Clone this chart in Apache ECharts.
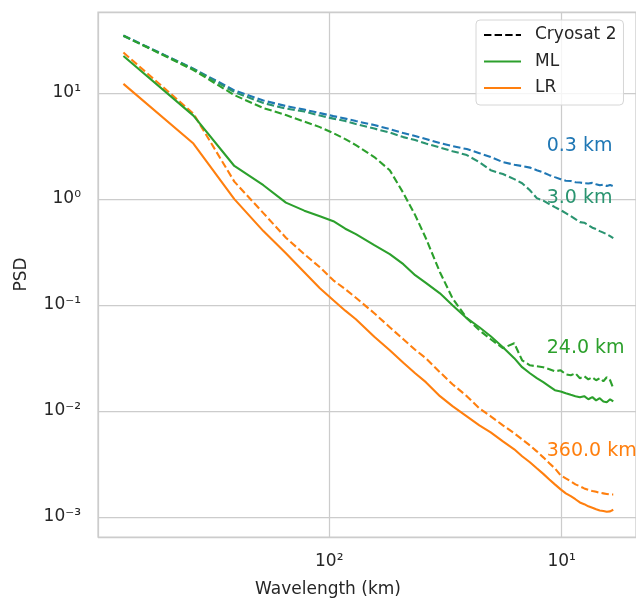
<!DOCTYPE html>
<html><head><meta charset="utf-8">
<script src="https://cdn.jsdelivr.net/npm/echarts@6/dist/echarts.min.js"></script>
<style>html,body{margin:0;padding:0;background:#fff}#c{width:636px;height:600px}</style>
</head><body><div id="c"></div>
<script>
// Wavelength (km)
const wavelengths = [768, 384, 256, 192, 153.6, 128, 109.7, 96, 85.3, 76.8,
  64, 54.9, 48, 42.7, 38.4, 33.4, 29.5, 25.6, 22.6, 20.2,
  17.9, 16, 14.8, 13.7, 12.8, 12, 11.3, 10.7, 10.1, 9.6,
  9.14, 8.73, 8.35, 8, 7.68, 7.38, 7.11, 6.86, 6.62, 6.4, 6.19, 6];

// Cryosat 2 PSD filtered at 0.3 km
const cryo03 = [34.9, 17.0, 10.6, 8.50, 7.54, 6.98, 6.47, 6.06, 5.74, 5.44,
  4.99, 4.57, 4.19, 3.93, 3.68, 3.37, 3.16, 2.96, 2.71, 2.49,
  2.23, 2.11, 2.05, 1.98, 1.87, 1.78, 1.68, 1.61, 1.54, 1.49,
  1.48, 1.44, 1.43, 1.41, 1.40, 1.42, 1.38, 1.35, 1.37, 1.33, 1.36, 1.32];
// Cryosat 2 PSD filtered at 3.0 km
const cryo3 = [34.6, 16.9, 10.2, 8.05, 7.14, 6.69, 6.13, 5.74, 5.44, 5.10,
  4.62, 4.24, 3.84, 3.60, 3.34, 3.06, 2.83, 2.60, 2.23, 1.87,
  1.72, 1.54, 1.41, 1.21, 1.02, 0.966, 0.895, 0.839, 0.786, 0.736,
  0.689, 0.646, 0.605, 0.598, 0.567, 0.537, 0.520, 0.498, 0.482, 0.466, 0.446, 0.427];
// Cryosat 2 PSD filtered at 24.0 km
const cryo24 = [34.8, 16.5, 9.57, 7.22, 6.20, 5.38, 4.77, 4.19, 3.68, 3.23,
  2.49, 1.87, 1.14, 0.705, 0.427, 0.204, 0.116, 0.0751, 0.0578, 0.0475,
  0.0391, 0.0436, 0.0301, 0.0270, 0.0264, 0.0259, 0.0248, 0.0237, 0.0242, 0.0222,
  0.0217, 0.0227, 0.0204, 0.0213, 0.0199, 0.0208, 0.0195, 0.0204, 0.0191, 0.0208, 0.0195, 0.0164];
// Cryosat 2 PSD filtered at 360.0 km
const cryo360 = [24.1, 6.40, 1.46, 0.736, 0.432, 0.302, 0.227, 0.171, 0.141, 0.117,
  0.0837, 0.0617, 0.0475, 0.0378, 0.0315, 0.0232, 0.0179, 0.0138, 0.0106, 0.00891,
  0.00733, 0.00616, 0.00540, 0.00474, 0.00416, 0.00365, 0.00321, 0.00288, 0.00247, 0.00231,
  0.00217, 0.00203, 0.00195, 0.00186, 0.00180, 0.00176, 0.00173, 0.00169, 0.00167, 0.00165, 0.00163, 0.00163];
// ML PSD
const mlPsd = [22.4, 6.13, 2.05, 1.35, 0.925, 0.777, 0.689, 0.618, 0.525, 0.466,
  0.367, 0.302, 0.243, 0.191, 0.162, 0.129, 0.0996, 0.0751, 0.0617, 0.0507,
  0.0400, 0.0315, 0.0259, 0.0227, 0.0204, 0.0187, 0.0171, 0.0157, 0.0153, 0.0147,
  0.0142, 0.0138, 0.0135, 0.0138, 0.0129, 0.0135, 0.0126, 0.0132, 0.0123, 0.0121, 0.0129, 0.0123];
// LR PSD
const lrPsd = [12.2, 3.34, 0.998, 0.498, 0.308, 0.204, 0.144, 0.111, 0.0884, 0.0734,
  0.0502, 0.0374, 0.0285, 0.0227, 0.0187, 0.0138, 0.0111, 0.00891, 0.00733, 0.00629,
  0.00517, 0.00435, 0.00374, 0.00328, 0.00288, 0.00255, 0.00226, 0.00203, 0.00182, 0.00167,
  0.00157, 0.00147, 0.00137, 0.00132, 0.00126, 0.00122, 0.00118, 0.00115, 0.00114, 0.00112, 0.00113, 0.00117];

const xTickLabels = {1: '10\u00B9', 2: '10\u00B2'};
const yTickLabels = {'-3': '10\u207B\u00B3', '-2': '10\u207B\u00B2', '-1': '10\u207B\u00B9', '0': '10\u2070', '1': '10\u00B9'};
const legendNames = ['Cryosat 2', 'ML', 'LR'];
const resLabels = [
  {text: '0.3 km', x: 11.6, y: 3.15, color: '#1f77b4'},
  {text: '3.0 km', x: 11.6, y: 1.03, color: '#2a9470'},
  {text: '24.0 km', x: 11.6, y: 0.0395, color: '#2ca02c'},
  {text: '360.0 km', x: 11.6, y: 0.00415, color: '#ff7f0e'}
];

const FONT = 'DejaVu Sans';
const TXT = '#262626';
function tickFmt(map) {
  return function (v) {
    const e = Math.log10(v);
    const r = Math.round(e);
    if (Math.abs(e - r) > 1e-6) return '';
    return map[String(r)] || '';
  };
}
function mk(name, vals, color, dashed, label) {
  const s = {
    type: 'line', name: name,
    data: wavelengths.map((w, i) => [w, vals[i]]),
    symbol: 'none', showSymbol: false, silent: true, animation: false,
    lineStyle: {color: color, width: 2.1, type: dashed ? [7.4, 3.2] : 'solid'},
    itemStyle: {color: color}
  };
  if (label) {
    s.markPoint = {
      symbol: 'circle', symbolSize: 0, silent: true, animation: false,
      data: [{coord: [label.x, label.y]}],
      label: {show: true, position: 'right', distance: 0, formatter: label.text,
        color: label.color, fontSize: 19, fontFamily: FONT}
    };
  }
  return s;
}

const chart = echarts.init(document.getElementById('c'), null, {renderer: 'canvas'});
chart.setOption({
  backgroundColor: '#fff',
  animation: false,
  textStyle: {fontFamily: FONT},
  grid: {left: 98, right: 0, top: 12, bottom: 63, show: true, borderColor: '#cccccc', borderWidth: 1.25,
    backgroundColor: 'transparent', containLabel: false, outerBoundsMode: 'none'},
  legend: {
    orient: 'vertical', left: 476, top: 20, itemWidth: 37, itemHeight: 14, itemGap: 8.5,
    padding: [6, 7, 8, 7], backgroundColor: 'rgba(255,255,255,0.8)', borderColor: '#d6d6d6',
    borderWidth: 1, borderRadius: 4, selectedMode: false,
    itemStyle: {opacity: 0},
    textStyle: {fontSize: 17, color: TXT, fontFamily: FONT, lineHeight: 18, padding: [0, 0, 0, 9]},
    data: legendNames
  },
  xAxis: {
    type: 'log', logBase: 10, inverse: true, min: 4.79, max: 988,
    axisLine: {show: false}, axisTick: {show: false},
    splitLine: {show: true, lineStyle: {color: '#cccccc', width: 1.25}},
    minorTick: {show: false}, minorSplitLine: {show: false},
    axisLabel: {formatter: tickFmt(xTickLabels), color: TXT, fontSize: 17, fontFamily: FONT, margin: 16, showMinLabel: false, showMaxLabel: false},
    name: 'Wavelength (km)', nameLocation: 'middle', nameGap: 44,
    nameTextStyle: {fontSize: 17, color: TXT, fontFamily: FONT, padding: [0, 78, 0, 0]}
  },
  yAxis: {
    type: 'log', logBase: 10, min: 0.000647, max: 58.2,
    axisLine: {show: false}, axisTick: {show: false},
    splitLine: {show: true, lineStyle: {color: '#cccccc', width: 1.25}},
    minorTick: {show: false}, minorSplitLine: {show: false},
    axisLabel: {formatter: tickFmt(yTickLabels), color: TXT, fontSize: 17, fontFamily: FONT, margin: 17, showMinLabel: false, showMaxLabel: false},
    name: 'PSD', nameLocation: 'middle', nameGap: 68,
    nameTextStyle: {fontSize: 17, color: TXT, fontFamily: FONT}
  },
  series: [
    mk('Cryosat 2 (0.3 km)', cryo03, '#1f77b4', true, resLabels[0]),
    mk('Cryosat 2 (3.0 km)', cryo3, '#2a9470', true, resLabels[1]),
    mk('Cryosat 2 (24.0 km)', cryo24, '#2ca02c', true, resLabels[2]),
    mk('Cryosat 2 (360.0 km)', cryo360, '#ff7f0e', true, resLabels[3]),
    mk('ML', mlPsd, '#2ca02c', false),
    mk('LR', lrPsd, '#ff7f0e', false),
    {type: 'line', name: 'Cryosat 2', data: [], symbol: 'none', lineStyle: {color: '#000', width: 2.1, type: [7.4, 3.2]}, itemStyle: {color: '#000'}}
  ]
});
</script>
</body></html>
